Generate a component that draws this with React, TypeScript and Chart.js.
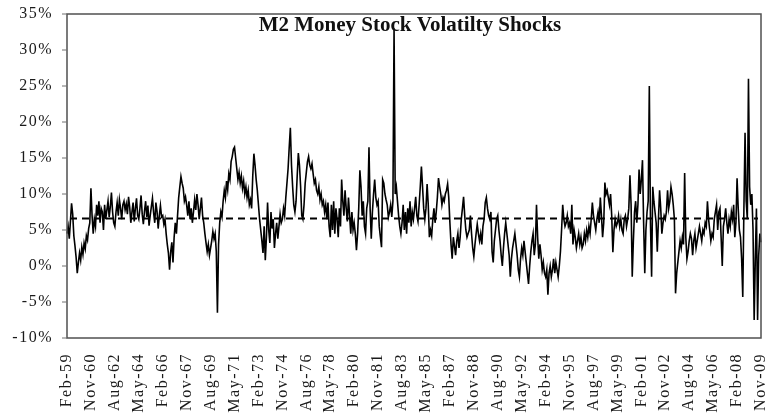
import React, { useEffect, useRef } from "react";
import { Chart, registerables } from "chart.js";

Chart.register(...registerables);

const TITLE = "M2 Money Stock Volatilty Shocks";
const X_TICK_LABELS = [
  "Feb-59", "Nov-60", "Aug-62", "May-64", "Feb-66", "Nov-67", "Aug-69", "May-71",
  "Feb-73", "Nov-74", "Aug-76", "May-78", "Feb-80", "Nov-81", "Aug-83", "May-85",
  "Feb-87", "Nov-88", "Aug-90", "May-92", "Feb-94", "Nov-95", "Aug-97", "May-99",
  "Feb-01", "Nov-02", "Aug-04", "May-06", "Feb-08", "Nov-09",
];
const LABEL_STEP = 21; // months between labelled ticks
const Y_TICKS = [-10, -5, 0, 5, 10, 15, 20, 25, 30, 35];
const Y_MIN = -10;
const Y_MAX = 35;
const AVERAGE_LEVEL = 6.6;

// monthly M2 volatility shocks (%), Feb-59 .. Nov-09, one row per 21-month block
const SHOCKS_1959_1969 = [
  4.5, 5.5, 3.8, 6.2, 8.7, 7.2, 4.2, 2.8, 1.2, -1.0, 0.5, 1.8, 0.8, 2.6, 1.6, 3.2, 2.4, 4.2, 3.6, 5.2, 6.0,
  10.8, 7.0, 4.5, 6.5, 5.5, 8.5, 7.0, 9.0, 6.0, 8.0, 7.5, 5.0, 8.5, 6.5, 7.8, 9.0, 6.8, 8.2, 10.2, 7.5, 6.0,
  5.5, 7.5, 8.8, 7.0, 9.2, 8.0, 6.5, 8.5, 9.0, 7.8, 8.6, 7.2, 9.6, 8.2, 6.0, 7.5, 8.8, 6.2, 8.0, 9.4, 7.0,
  6.5, 8.0, 9.8, 7.2, 5.8, 7.6, 9.0, 6.8, 8.4, 5.6, 7.0, 8.2, 9.4, 7.4, 6.0, 8.8, 7.6, 5.2, 7.0, 8.4, 6.8,
  7.0, 5.8, 6.5, 4.5, 3.0, 1.8, -0.5, 2.0, 3.3, 0.5, 4.0, 6.0, 4.5, 7.0, 9.5, 11.0, 12.4, 11.5, 10.8, 9.0, 9.6,
  8.5, 7.0, 9.0, 6.5, 8.0, 6.0, 7.5, 9.2, 7.8, 10.0, 8.5, 6.5, 8.0, 9.5, 7.0, 6.0, 4.5, 3.2, 2.0, 3.0, 1.5,
];
const SHOCKS_1969_1980 = [
  2.5, 3.5, 4.8, 3.8, 4.5, 2.0, -6.5, 3.0, 6.0, 7.5, 6.8, 9.0, 10.5, 9.5, 11.8, 10.6, 12.8, 12.0, 14.5, 15.2, 16.2,
  16.5, 15.0, 13.5, 12.0, 13.0, 11.5, 12.5, 10.8, 11.8, 10.0, 11.0, 9.5, 10.5, 8.5, 9.2, 8.0, 12.5, 15.6, 14.0, 12.0, 10.5,
  8.5, 6.5, 5.0, 3.5, 1.8, 5.5, 0.8, 4.0, 8.8, 5.0, 3.2, 7.5, 5.2, 6.5, 2.5, 4.5, 6.0, 3.8, 5.5, 7.2, 6.0,
  6.5, 8.0, 7.0, 9.5, 11.5, 13.5, 16.5, 19.2, 14.0, 11.0, 8.5, 7.5, 9.0, 12.5, 15.7, 14.0, 11.0, 7.0, 6.5, 8.5, 11.5,
  13.0, 14.5, 15.2, 14.0, 13.5, 14.2, 12.8, 11.5, 12.0, 10.5, 10.0, 11.0, 9.2, 10.0, 8.5, 9.0, 7.5, 8.5, 6.5, 8.8, 5.5,
  4.0, 8.5, 5.0, 9.0, 4.5, 8.0, 6.5, 4.0, 8.0, 5.5, 12.0, 9.0, 7.0, 10.5, 8.0, 6.2, 9.5, 7.0, 4.5, 7.5, 5.0,
];
const SHOCKS_1980_1990 = [
  6.0, 4.5, 2.2, 4.5, 8.0, 13.3, 11.0, 7.0, 9.0, 5.5, 4.5, 8.0, 9.0, 16.5, 8.0, 3.8, 7.5, 10.0, 12.0, 9.5, 8.5,
  9.0, 5.5, 4.0, 2.6, 12.0, 11.5, 10.0, 9.2, 8.5, 6.8, 7.5, 8.5, 6.8, 9.0, 33.0, 10.0, 11.0, 9.0, 7.0, 5.5, 4.5,
  6.0, 8.5, 5.0, 7.5, 4.5, 8.0, 6.0, 9.0, 5.5, 7.5, 6.5, 8.0, 9.6, 7.0, 6.2, 8.5, 11.0, 13.8, 11.0, 8.0, 6.5,
  8.0, 11.4, 8.5, 4.0, 5.0, 4.2, 6.5, 8.0, 6.0, 7.5, 9.5, 12.2, 11.0, 10.0, 8.5, 9.5, 9.0, 10.0, 10.5, 11.4, 9.5,
  6.0, 3.0, 1.0, 4.0, 2.8, 1.5, 3.5, 4.5, 2.5, 4.0, 6.5, 8.0, 9.6, 7.0, 5.0, 4.0, 4.5, 5.0, 7.0, 4.5, 2.5,
  1.3, 3.0, 4.5, 5.8, 4.5, 3.5, 4.5, 3.0, 5.5, 6.5, 8.8, 9.5, 8.0, 7.0, 6.5, 7.5, 2.0, 0.5, 3.5, 5.0, 6.5,
];
const SHOCKS_1990_2001 = [
  7.0, 5.0, 3.5, 1.5, 0.0, 2.5, 4.5, 6.0, 4.5, 3.0, 1.5, -1.5, 1.0, 2.5, 3.5, 4.5, 3.0, 1.5, -0.5, -1.5, 1.0,
  2.5, 1.5, 3.5, 2.0, 0.5, -1.0, -2.5, 0.0, 2.0, 3.5, 4.5, 1.5, 3.0, 8.5, 4.0, 1.0, 3.0, 1.5, -0.5, 0.5, -1.0,
  -1.5, -0.5, -4.0, -1.0, 0.0, -1.5, -0.5, 1.0, -1.0, 0.5, -0.5, -1.5, 0.0, 2.0, 5.0, 8.5, 6.5, 5.5, 6.0, 7.0, 5.5,
  6.0, 4.5, 8.5, 3.0, 5.0, 4.0, 2.5, 3.5, 4.5, 3.0, 4.0, 2.5, 3.0, 4.5, 3.5, 5.0, 4.0, 5.5, 4.5, 6.5, 8.8,
  7.0, 6.0, 5.0, 6.5, 7.5, 6.0, 9.5, 7.0, 4.0, 6.0, 11.6, 10.0, 10.5, 9.5, 8.5, 10.0, 7.0, 1.9, 5.0, 6.5, 5.5,
  6.0, 7.0, 5.5, 6.5, 5.0, 4.5, 6.5, 7.0, 5.5, 6.5, 8.0, 12.6, 8.5, -1.5, 3.5, 7.5, 9.0, 6.0, 8.5, 13.4, 10.0,
];
const SHOCKS_2001_2009 = [
  12.0, 14.7, 6.0, -1.0, 5.0, 7.5, 9.0, 25.0, 6.0, -1.5, 11.0, 9.0, 7.5, 6.0, 2.0, 6.5, 10.5, 8.0, 4.5, 6.0, 7.0,
  6.5, 7.5, 10.5, 8.0, 9.0, 11.0, 10.0, 8.5, 6.5, -3.8, -1.0, 0.5, 2.0, 3.5, 2.5, 4.0, 3.0, 12.9, 4.0, 1.0, 2.0,
  3.5, 4.5, 3.8, 1.5, 3.5, 4.5, 2.5, 3.5, 4.5, 5.5, 4.5, 3.5, 5.0, 4.5, 6.0, 5.5, 9.0, 6.5, 5.0, 3.5, 4.5,
  4.0, 6.5, 7.5, 8.5, 5.0, 7.5, 8.0, 4.0, 0.0, 5.5, 6.5, 8.0, 6.0, 4.5, 6.5, 5.5, 7.5, 6.5, 8.5, 4.0, 6.0,
  12.2, 8.0, 5.0, 4.0, 1.0, -4.3, 8.0, 18.5, 9.0, 6.5, 26.0, 11.0, 8.5, 10.0, 5.0, -7.5, 1.0, 8.0, -7.5, 1.5, 4.5, 3.3,
];

const SHOCKS = [
  ...SHOCKS_1959_1969,
  ...SHOCKS_1969_1980,
  ...SHOCKS_1980_1990,
  ...SHOCKS_1990_2001,
  ...SHOCKS_2001_2009,
];

const SERIF = '"Liberation Serif", "Times New Roman", serif';

const decorPlugin = {
  id: "decor",
  afterDraw(chart: any) {
    const { ctx, chartArea: a, scales } = chart;
    const xs = scales.x;
    const ys = scales.y;
    ctx.save();

    // average (dashed) line
    const ay = ys.getPixelForValue(AVERAGE_LEVEL);
    ctx.setLineDash([7, 5]);
    ctx.lineWidth = 2.2;
    ctx.strokeStyle = "#000";
    ctx.beginPath();
    ctx.moveTo(a.left + 3, ay);
    ctx.lineTo(a.right - 3, ay);
    ctx.stroke();
    ctx.setLineDash([]);

    // frame
    ctx.strokeStyle = "#505050";
    ctx.lineWidth = 1.5;
    ctx.strokeRect(a.left, a.top, a.right - a.left, a.bottom - a.top);

    // y ticks and labels
    ctx.lineWidth = 1;
    ctx.strokeStyle = "#707070";
    ctx.fillStyle = "#1a1a1a";
    ctx.font = `16px ${SERIF}`;
    (ctx as any).letterSpacing = "1.5px";
    ctx.textAlign = "right";
    ctx.textBaseline = "middle";
    for (const v of Y_TICKS) {
      const y = ys.getPixelForValue(v);
      ctx.beginPath();
      ctx.moveTo(a.left - 5, y);
      ctx.lineTo(a.left, y);
      ctx.stroke();
      ctx.fillText(`${v}%`, a.left - 14, y);
    }

    // x labels (rotated)
    X_TICK_LABELS.forEach((lab, k) => {
      const x = xs.getPixelForValue(k * LABEL_STEP);
      ctx.save();
      ctx.translate(x, a.bottom + 15);
      ctx.rotate(-Math.PI / 2);
      ctx.textAlign = "right";
      ctx.textBaseline = "middle";
      ctx.fillText(lab, 0, 0);
      ctx.restore();
    });

    // title inside plot area
    (ctx as any).letterSpacing = "0px";
    ctx.font = `bold 21px ${SERIF}`;
    ctx.textAlign = "center";
    ctx.textBaseline = "alphabetic";
    ctx.fillStyle = "#111";
    ctx.fillText(TITLE, (a.left + a.right) / 2 - 4, a.top + 17);

    ctx.restore();
  },
};

export default function App() {
  const canvasRef = useRef<HTMLCanvasElement | null>(null);

  useEffect(() => {
    if (!canvasRef.current) return;
    const chart = new Chart(canvasRef.current, {
      type: "line",
      data: {
        labels: SHOCKS.map((_, i) => i),
        datasets: [
          {
            data: SHOCKS,
            borderColor: "#000",
            borderWidth: 1.6,
            pointRadius: 0,
            tension: 0,
            fill: false,
          },
        ],
      },
      options: {
        animation: false,
        responsive: true,
        maintainAspectRatio: false,
        layout: { padding: { left: 67, top: 14, right: 5, bottom: 77 } },
        plugins: {
          legend: { display: false },
          tooltip: { enabled: false },
          title: { display: false },
        },
        scales: {
          x: { type: "category", display: false, offset: false },
          y: { display: false, min: Y_MIN, max: Y_MAX },
        },
      },
      plugins: [decorPlugin],
    });
    return () => chart.destroy();
  }, []);

  return (
    <div style={{ position: "fixed", left: 0, top: 0, width: 766, height: 415, background: "#fff" }}>
      <canvas ref={canvasRef} style={{ display: "block" }} />
    </div>
  );
}
